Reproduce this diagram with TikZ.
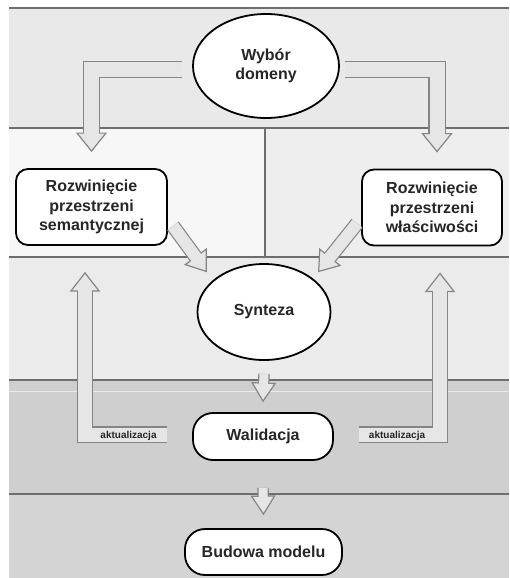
\documentclass[tikz,border=0pt]{standalone}
\usepackage{fontspec}
\setmainfont{Liberation Sans}
\usetikzlibrary{shapes.geometric,calc}

\definecolor{linegray}{HTML}{6E6E6E}
\definecolor{edgegray}{HTML}{858585}
\definecolor{arrowfill}{HTML}{E6E6E6}
\definecolor{bandtop}{HTML}{E9E9E9}
\definecolor{bandleft}{HTML}{F7F7F7}
\definecolor{bandright}{HTML}{EEEEEE}
\definecolor{bandmid}{HTML}{EBEBEB}
\definecolor{banddark}{HTML}{CFCFCF}
\definecolor{bandlow}{HTML}{D4D4D4}

% fat outlined arrow: [shaft width] {path up to last corner} {last corner} {tip}
\newcommand{\blockarrow}[4][15]{%
  \pgfmathsetlengthmacro{\hw}{#1pt/2+7pt}%
  \coordinate (neck) at ($(#4)!18pt!(#3)$);
  \coordinate (plug) at ($(#4)!15pt!(#3)$);
  \draw[line width=#1pt+2.4pt, draw=edgegray] #2 (#3) -- (neck);
  \draw[fill=arrowfill, draw=edgegray, line width=1.2pt]
    ($(neck)!\hw!90:(#4)$) -- (#4) -- ($(neck)!\hw!-90:(#4)$) -- cycle;
  \draw[line width=#1pt, draw=arrowfill] #2 (#3) -- (plug);
}

\begin{document}
\begin{tikzpicture}[x=1pt,y=-1pt,
    every node/.style={font=\bfseries\fontsize{16}{19.5}\selectfont, text=black!85, align=center},
    oval/.style={ellipse, draw, line width=1.8pt, fill=white, inner sep=0pt},
    roundbox/.style={rectangle, rounded corners=12pt, draw, line width=1.8pt, fill=white, inner sep=0pt},
    pill/.style={roundbox, rounded corners=20pt},
    update/.style={font=\bfseries\fontsize{10}{12}\selectfont, inner sep=0pt}]
  \useasboundingbox (0,0) rectangle (509,578);

  % bands
  \fill[bandtop] (9,8) rectangle (509,128);
  \fill[bandleft] (9,128) rectangle (265,257);
  \fill[bandright] (265,128) rectangle (509,257);
  \fill[bandmid] (9,257) rectangle (509,380);
  \fill[banddark] (9,380) rectangle (509,494);
  \fill[bandlow] (9,494) rectangle (509,578);
  \draw[white!92!black, line width=0.6pt] (9,391) -- (509,391);
  \draw[linegray, line width=1.3pt] (9,8) -- (509,8);
  \draw[linegray, line width=1.3pt] (9,128) -- (509,128);
  \draw[linegray, line width=1.3pt] (9,257) -- (509,257);
  \draw[linegray, line width=1.3pt] (9,380) -- (509,380);
  \draw[linegray, line width=1.3pt] (9,494) -- (509,494);
  \draw[linegray, line width=1.3pt] (265,128) -- (265,257);

  % stages
  \node[oval, minimum width=146pt, minimum height=104pt] (wybor) at (266,66) {Wybór\\domeny};
  \node[roundbox, minimum width=151pt, minimum height=76pt] (sem) at (91.5,207) {Rozwinięcie\\przestrzeni\\semantycznej};
  \node[roundbox, minimum width=140pt, minimum height=76pt] (wlasc) at (432,207.5) {Rozwinięcie\\przestrzeni\\właściwości};
  \node[oval, minimum width=133pt, minimum height=96pt] (synteza) at (264,312) {Synteza};
  \node[pill, minimum width=140pt, minimum height=47pt] (wal) at (263,436.5) {Walidacja};
  \node[pill, minimum width=157pt, minimum height=46pt] (bud) at (263.5,552) {Budowa modelu};

  % domain to both spaces
  \coordinate (wl) at ($(wybor.west)+(-10,3.5)$);
  \coordinate (lt) at ($(sem.north)+(0,-17)$);
  \coordinate (lc) at (lt |- wl);
  \blockarrow{(wl) --}{lc}{lt}
  \coordinate (wr) at ($(wybor.east)+(5,3.5)$);
  \coordinate (rt) at ($(wlasc.north)+(5,-17)$);
  \coordinate (rc) at (rt |- wr);
  \blockarrow{(wr) --}{rc}{rt}

  % spaces to synthesis
  \coordinate (ds) at ($(sem.south east)+(5,-20)$);
  \coordinate (dt) at ($(synteza.north west)+(-10,-6)$);
  \blockarrow[12]{}{ds}{dt}
  \coordinate (es) at ($(wlasc.south west)+(-4,-23)$);
  \coordinate (et) at ($(synteza.north east)+(7,-6)$);
  \blockarrow[12]{}{es}{et}

  % updates back from validation
  \coordinate (ls) at ($(wal.west)+(-25,-2)$);
  \coordinate (lu) at ($(sem.south)+(-6.5,27)$);
  \coordinate (lk) at (lu |- ls);
  \blockarrow[14]{(ls) --}{lk}{lu}
  \coordinate (rs) at ($(wal.east)+(25,-2)$);
  \coordinate (ru) at ($(wlasc.south)+(8,27)$);
  \coordinate (rk) at (ru |- rs);
  \blockarrow[14]{(rs) --}{rk}{ru}
  \node[update] (akt1) at ($(ls)!0.47!(lk)+(0,1.5)$) {aktualizacja};
  \node[update] (akt2) at ($(rs)!0.47!(rk)+(0,1.5)$) {aktualizacja};

  % down the chain
  \coordinate (ss) at ($(synteza.south)+(0,13)$);
  \coordinate (st) at ($(wal.north)+(0,-11)$);
  \blockarrow[9]{}{ss}{st}
  \coordinate (vs) at ($(wal.south)+(0,27)$);
  \coordinate (vt) at ($(bud.north)+(0,-14)$);
  \blockarrow[9]{}{vs}{vt}
\end{tikzpicture}
\end{document}
